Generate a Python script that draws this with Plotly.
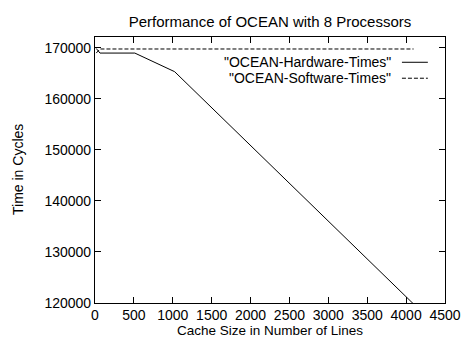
import plotly.graph_objects as go

# Data
cache_sizes = [16, 64, 512, 1024, 4096]
hardware_times = [169900, 169000, 169000, 165350, 119800]
software_cache_sizes = [16, 64, 512, 1024, 4096]
software_times = [169000, 169800, 169800, 169800, 169800]

x_ticks = [0, 500, 1000, 1500, 2000, 2500, 3000, 3500, 4000, 4500]
y_ticks = [120000, 130000, 140000, 150000, 160000, 170000]

series_names = ['"OCEAN-Hardware-Times"', '"OCEAN-Software-Times"']

FONT = "Liberation Sans, Arial, Helvetica, sans-serif"

fig = go.Figure()
fig.add_trace(go.Scatter(x=cache_sizes, y=hardware_times, mode="lines",
                         line=dict(color="black", width=1), name=series_names[0],
                         showlegend=False, hoverinfo="skip"))
fig.add_trace(go.Scatter(x=software_cache_sizes, y=software_times, mode="lines",
                         line=dict(color="black", width=1, dash="4px,2px"),
                         name=series_names[1], showlegend=False, hoverinfo="skip"))

# gnuplot-style key: text right-aligned, sample line on the right
key_rows = [(series_names[0], "solid", 0.905), (series_names[1], "4px,2px", 0.845)]
for name, dash, yp in key_rows:
    fig.add_annotation(xref="paper", yref="paper", x=0.852, y=yp, text=name,
                       showarrow=False, xanchor="right", yanchor="middle",
                       font=dict(family=FONT, size=14, color="black"))
    fig.add_shape(type="line", xref="paper", yref="paper", x0=0.877, x1=0.951,
                  y0=yp, y1=yp, line=dict(color="black", width=1, dash=dash))

# y-axis title (placed as a rotated text like gnuplot's ylabel)
fig.add_annotation(xref="paper", yref="paper", x=-0.22, y=0.5, text="Time in Cycles",
                   textangle=-90, showarrow=False, xanchor="center", yanchor="middle",
                   font=dict(family=FONT, size=14, color="black"))

axis_common = dict(showline=True, linecolor="black", linewidth=1.2, mirror="allticks",
                   ticks="inside", ticklen=6, tickcolor="black", tickwidth=1,
                   showgrid=False, zeroline=False, automargin=False,
                   tickfont=dict(family=FONT, size=14, color="black"))

fig.update_layout(
    width=462, height=338,
    margin=dict(l=95, r=17, t=37, b=35),
    paper_bgcolor="white", plot_bgcolor="white",
    title=dict(text="Performance of OCEAN with 8 Processors", x=0.5, xanchor="center",
               xref="paper", y=1 - 22 / 338, yanchor="middle",
               font=dict(family=FONT, size=15, color="black")),
    xaxis=dict(range=[0, 4500], tickvals=x_ticks, ticktext=[str(v) for v in x_ticks],
               ticklabelstandoff=-1,
               title=dict(text="Cache Size in Number of Lines", standoff=4,
                          font=dict(family=FONT, size=13.5, color="black")),
               **axis_common),
    yaxis=dict(range=[120000, 172150], tickvals=y_ticks, ticktext=[str(v) for v in y_ticks],
               **axis_common),
    showlegend=False,
)

fig.write_html("out.html", config={"displayModeBar": False},
               post_script="document.body.style.margin='0';document.body.style.overflow='hidden';")
